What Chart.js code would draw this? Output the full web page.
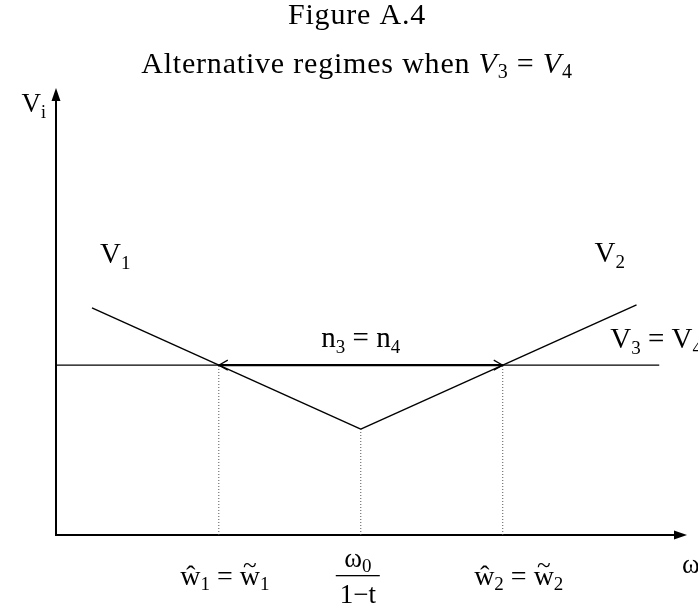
<!DOCTYPE html>
<html lang="en">
<head>
    <meta charset="UTF-8">
    <style>
        body {
            margin: 0;
            background-color: #ffffff;
        }
        #grafico {
            display: block;
        }
    </style>
    <script src="https://cdn.jsdelivr.net/npm/chart.js"></script>
    <title>Figure A.4</title>
</head>
<body>
    <canvas id="grafico" width="698" height="614"></canvas>

    <script>
        // wage axis (omega) runs 0..100, value axis (V_i) runs 0..100
        const v1X = [5.7, 48.3];
        const v1Y = [50.8, 23.7];
        const v2X = [48.3, 92];
        const v2Y = [23.7, 51.5];
        const v34X = [0, 95.6];
        const v34Y = [38, 38];
        // regime cutoffs on the omega axis and where the dotted guides stop
        const cutoffX = [25.8, 48.3, 70.8];
        const cutoffTop = [38, 23.7, 38];
        const cutoffLabels = ["w1", "frac", "w2"];

        const serif = "'Liberation Serif', 'Times New Roman', serif";

        function pares(xs, ys) {
            return xs.map((x, i) => ({ x: x, y: ys[i] }));
        }

        const linhas = [
            { label: "V1", data: pares(v1X, v1Y), borderWidth: 1.4 },
            { label: "V2", data: pares(v2X, v2Y), borderWidth: 1.4 },
            { label: "V3 = V4", data: pares(v34X, v34Y), borderWidth: 1.4 },
            // n3 = n4 span between the first and last cutoff
            { label: "n3 = n4", data: pares([cutoffX[0], cutoffX[2]], [v34Y[0], v34Y[0]]), borderWidth: 2.2 }
        ];

        cutoffX.forEach((x, i) => {
            linhas.push({
                label: cutoffLabels[i],
                data: pares([x, x], [0, cutoffTop[i]]),
                borderWidth: 1,
                borderColor: "#555",
                borderDash: [1, 2]
            });
        });

        linhas.forEach(d => {
            d.borderColor = d.borderColor || "#000";
            d.showLine = true;
            d.pointRadius = 0;
            d.tension = 0;
            d.fill = false;
        });

        // pieces: [text, size, dy, accent, italic]
        function textoRico(ctx, pecas, x, y, align, espaco) {
            ctx.letterSpacing = (espaco || 0) + "px";
            const fonte = p => (p[4] ? "italic " : "") + p[1] + "px " + serif;
            let total = 0;
            pecas.forEach(p => {
                ctx.font = fonte(p);
                total += ctx.measureText(p[0]).width;
            });
            let cx = align === "center" ? x - total / 2 : (align === "right" ? x - total : x);
            ctx.textAlign = "left";
            ctx.textBaseline = "alphabetic";
            pecas.forEach(p => {
                ctx.font = fonte(p);
                const w = ctx.measureText(p[0]).width;
                ctx.fillText(p[0], cx, y + (p[2] || 0));
                if (p[3]) {
                    ctx.font = (p[1] * 0.9) + "px " + serif;
                    ctx.textAlign = "center";
                    ctx.fillText(p[3], cx + w / 2, y - p[1] * 0.42);
                    ctx.textAlign = "left";
                }
                cx += w;
            });
            ctx.letterSpacing = "0px";
            return total;
        }

        function seta(ctx, x, y, ang) {
            ctx.save();
            ctx.translate(x, y);
            ctx.rotate(ang);
            ctx.beginPath();
            ctx.moveTo(0, 0);
            ctx.lineTo(-13, -4.5);
            ctx.lineTo(-13, 4.5);
            ctx.closePath();
            ctx.fill();
            ctx.restore();
        }

        const eixos = {
            id: "eixos",
            beforeDatasetsDraw(chart) {
                const ctx = chart.ctx;
                const sx = chart.scales.x, sy = chart.scales.y;
                const x0 = sx.getPixelForValue(0), y0 = sy.getPixelForValue(0);
                const x1 = sx.getPixelForValue(100), y1 = sy.getPixelForValue(100);
                ctx.save();
                ctx.strokeStyle = "#000";
                ctx.fillStyle = "#000";
                ctx.lineWidth = 2;
                ctx.beginPath();
                ctx.moveTo(x0, y1 + 8);
                ctx.lineTo(x0, y0);
                ctx.lineTo(x1 - 8, y0);
                ctx.stroke();
                seta(ctx, x0, y1, -Math.PI / 2);
                seta(ctx, x1, y0, 0);
                ctx.restore();
            },
            afterDatasetsDraw(chart) {
                const ctx = chart.ctx;
                const sx = chart.scales.x, sy = chart.scales.y;
                const ya = sy.getPixelForValue(v34Y[0]);
                const xa = sx.getPixelForValue(cutoffX[0]);
                const xb = sx.getPixelForValue(cutoffX[2]);
                ctx.save();
                ctx.strokeStyle = "#000";
                ctx.lineWidth = 1.2;
                ctx.beginPath();
                ctx.moveTo(xa + 9, ya - 5);
                ctx.lineTo(xa, ya);
                ctx.lineTo(xa + 9, ya + 5);
                ctx.moveTo(xb - 9, ya - 5);
                ctx.lineTo(xb, ya);
                ctx.lineTo(xb - 9, ya + 5);
                ctx.stroke();
                ctx.restore();
            }
        };

        const rotulos = {
            id: "rotulos",
            afterDraw(chart) {
                const ctx = chart.ctx;
                const sx = chart.scales.x, sy = chart.scales.y;
                const px = v => sx.getPixelForValue(v);
                const py = v => sy.getPixelForValue(v);
                ctx.save();
                ctx.fillStyle = "#000";

                // title block
                textoRico(ctx, [["Figure A.4", 30]], 357, 24, "center", 0.8);
                textoRico(ctx, [["Alternative regimes when ", 30], ["V", 30, 0, null, true], ["3", 20, 5],
                    [" = ", 30], ["V", 30, 0, null, true], ["4", 20, 5]], 357, 73, "center", 0.8);

                // axis names
                textoRico(ctx, [["V", 27], ["i", 18, 6]], px(0) - 10, py(100) + 24, "right");
                textoRico(ctx, [["ω", 27]], px(100) - 5, py(0) + 38, "left");

                // curve names
                textoRico(ctx, [["V", 29], ["1", 19, 6]], px(v1X[0]) + 8, py(v1Y[0]) - 45, "left");
                textoRico(ctx, [["V", 29], ["2", 19, 6]], px(v2X[1]) - 42, py(v2Y[1]) - 43, "left");
                textoRico(ctx, [["n", 29], ["3", 19, 6], [" = ", 29], ["n", 29], ["4", 19, 6]],
                    (px(cutoffX[0]) + px(cutoffX[2])) / 2, py(v34Y[0]) - 18, "center");
                textoRico(ctx, [["V", 29], ["3", 19, 6], [" = ", 29], ["V", 29], ["4", 19, 6]],
                    px(v34X[1]) - 49, py(v34Y[0]) - 17, "left");

                // cutoff labels under the omega axis
                const yb = py(0) + 50;
                textoRico(ctx, [["ŵ", 28], ["1", 19, 5], [" = ", 28], ["w", 28, 0, "~"], ["1", 19, 5]],
                    px(cutoffX[0]) + 6, yb, "center");
                textoRico(ctx, [["ŵ", 28], ["2", 19, 5], [" = ", 28], ["w", 28, 0, "~"], ["2", 19, 5]],
                    px(cutoffX[2]) + 16, yb, "center");
                const xm = px(cutoffX[1]) - 3;
                textoRico(ctx, [["ω", 27], ["0", 19, 5]], xm, py(0) + 32, "center");
                ctx.fillRect(xm - 22, py(0) + 40, 44, 1.3);
                textoRico(ctx, [["1−t", 27]], xm, py(0) + 68, "center");

                ctx.restore();
            }
        };

        new Chart(document.getElementById("grafico"), {
            type: "scatter",
            data: { datasets: linhas },
            options: {
                responsive: false,
                animation: false,
                devicePixelRatio: 1,
                layout: {
                    padding: { left: 56, right: 11, top: 88, bottom: 79 }
                },
                scales: {
                    x: { type: "linear", min: 0, max: 100, display: false },
                    y: { type: "linear", min: 0, max: 100, display: false }
                },
                plugins: {
                    legend: { display: false },
                    tooltip: { enabled: false }
                }
            },
            plugins: [eixos, rotulos]
        });
    </script>
</body>
</html>
